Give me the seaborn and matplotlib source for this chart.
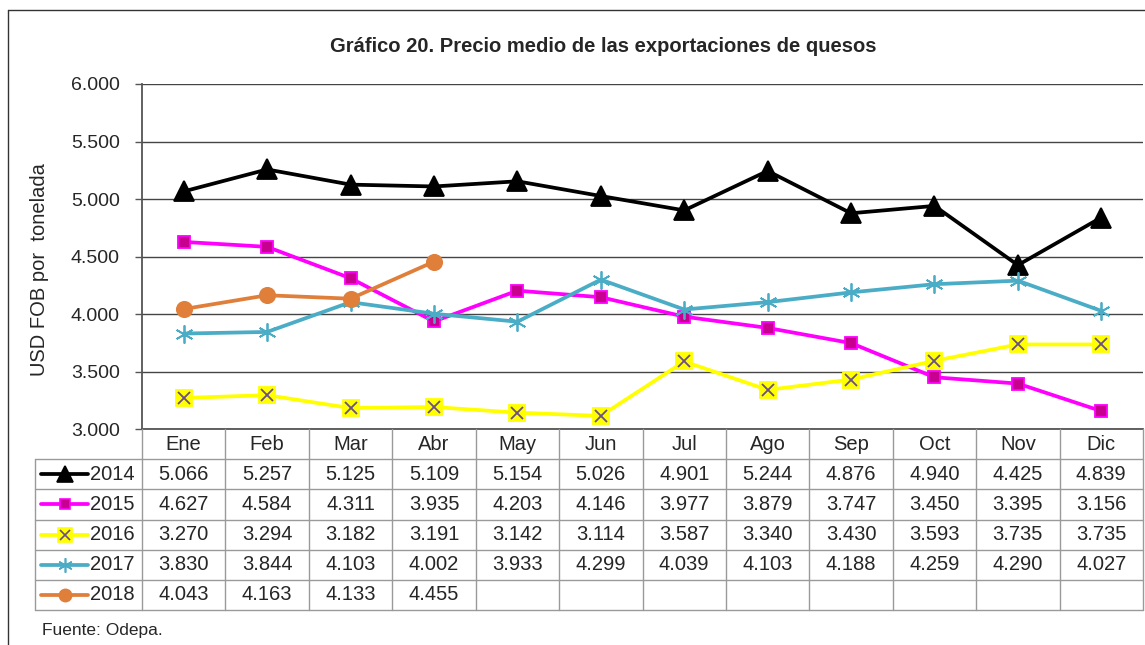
import numpy as np
import pandas as pd
import matplotlib
matplotlib.use("Agg")
import matplotlib.pyplot as plt
import seaborn as sns
from matplotlib.lines import Line2D

meses = ["Ene", "Feb", "Mar", "Abr", "May", "Jun", "Jul", "Ago", "Sep", "Oct", "Nov", "Dic"]
anios = ["2014", "2015", "2016", "2017", "2018"]
v2014 = [5066, 5257, 5125, 5109, 5154, 5026, 4901, 5244, 4876, 4940, 4425, 4839]
v2015 = [4627, 4584, 4311, 3935, 4203, 4146, 3977, 3879, 3747, 3450, 3395, 3156]
v2016 = [3270, 3294, 3182, 3191, 3142, 3114, 3587, 3340, 3430, 3593, 3735, 3735]
v2017 = [3830, 3844, 4103, 4002, 3933, 4299, 4039, 4103, 4188, 4259, 4290, 4027]
v2018 = [4043, 4163, 4133, 4455]
valores = [v2014, v2015, v2016, v2017, v2018]

# estilo de cada serie (como en Excel)
estilos = {
    "2014": dict(color="black", marker="^", markersize=14, markerfacecolor="black", markeredgecolor="black"),
    "2015": dict(color="#FF00FF", marker="s", markersize=9, markerfacecolor="#C8008F", markeredgecolor="#FF00FF"),
    "2016": dict(color="#FFFF00", marker="s", markersize=12, markerfacecolor="#FFFF00", markeredgecolor="#FFFF00"),
    "2017": dict(color="#4BACC6", marker=(6, 2, 0), markersize=13, markerfacecolor="#4BACC6", markeredgecolor="#4BACC6"),
    "2018": dict(color="#DF7F3A", marker="o", markersize=11, markerfacecolor="#DF7F3A", markeredgecolor="#DF7F3A"),
}

def fmt(v):
    return f"{v:,.0f}".replace(",", ".")

sns.set_theme(style="white")
plt.rcParams['font.family'] = ['Liberation Sans', 'DejaVu Sans']

W, H = 1145, 645
fig = plt.figure(figsize=(W / 100, H / 100), dpi=100)

# grafico principal
ax = fig.add_axes([142 / W, 1 - 429 / H, 1001 / W, 345 / H])
for anio, vals in zip(anios, valores):
    df = pd.DataFrame({"mes": np.arange(len(vals)), "valor": vals})
    e = estilos[anio]
    sns.lineplot(data=df, x="mes", y="valor", ax=ax, color=e["color"], linewidth=2.7,
                 marker=e["marker"], markersize=e["markersize"], markerfacecolor=e["markerfacecolor"],
                 markeredgecolor=e["markeredgecolor"], markeredgewidth=1.3, zorder=3)
    if anio == "2016":
        ax.plot(df["mes"], df["valor"], linestyle="none", marker="x", markersize=9,
                markeredgecolor="#6A4E8A", markeredgewidth=1.3, zorder=4)

ax.set_xlim(-0.5, 11.5)
ax.set_ylim(3000, 6000)
ax.set_yticks(np.arange(3000, 6001, 500))
ax.set_yticklabels([fmt(t) for t in np.arange(3000, 6001, 500)], fontsize=14)
ax.set_xticks([])
ax.set_xlabel("")
ax.set_ylabel("")
ax.yaxis.grid(True, color="#444444", linewidth=1)
ax.set_axisbelow(True)
for s in ["top", "right"]:
    ax.spines[s].set_visible(False)
for s in ["left", "bottom"]:
    ax.spines[s].set_color("#555555")
    ax.spines[s].set_linewidth(1.3)
ax.tick_params(axis="y", left=True, length=5, width=1, color="#555555", pad=11)

# tabla de datos
px = 1001 / 12
x_izq = -0.5 - (142 - 35) / px
tab = fig.add_axes([35 / W, 1 - 610 / H, (1143 - 35) / W, 181 / H])
tab.set_xlim(x_izq, 11.5)
tab.set_ylim(6, 0)
tab.axis("off")
gris = "#9a9a9a"
fs_tab = 14.5

for i, m in enumerate(meses):
    tab.text(i, 0.5, m, ha="center", va="center", fontsize=fs_tab)
for k in range(13):
    tab.plot([k - 0.5, k - 0.5], [0, 6], color=gris, lw=1, clip_on=False)
tab.plot([x_izq, x_izq], [1, 6], color=gris, lw=1, clip_on=False)
for r in range(1, 7):
    tab.plot([x_izq, 11.5], [r, r], color=gris, lw=1, clip_on=False)

for r, (anio, vals) in enumerate(zip(anios, valores), start=1):
    y = r + 0.5
    e = estilos[anio]
    x0 = x_izq + 6 / px
    x1 = x_izq + 53 / px
    tab.plot([x0, x1], [y, y], color=e["color"], lw=2.7, clip_on=False)
    tab.plot([(x0 + x1) / 2], [y], linestyle="none", marker=e["marker"], markersize=e["markersize"] * 0.8,
             markerfacecolor=e["markerfacecolor"], markeredgecolor=e["markeredgecolor"],
             markeredgewidth=1.2, clip_on=False)
    if anio == "2016":
        tab.plot([(x0 + x1) / 2], [y], linestyle="none", marker="x", markersize=7,
                 markeredgecolor="#6A4E8A", markeredgewidth=1.2, clip_on=False)
    tab.text(x_izq + 55 / px, y, anio, ha="left", va="center", fontsize=fs_tab)
    for i, v in enumerate(vals):
        tab.text(i, y, fmt(v), ha="center", va="center", fontsize=fs_tab)

# textos
fig.text(603 / W, 1 - 47 / H, "Gráfico 20. Precio medio de las exportaciones de quesos",
         ha="center", va="center", fontsize=14.5, fontweight="bold")
fig.text(40 / W, 1 - 270 / H, "USD FOB por  tonelada", rotation=90, ha="center", va="center", fontsize=14.5)
fig.text(42 / W, 1 - 631 / H, "Fuente: Odepa.", ha="left", va="center", fontsize=12.5)

# marco exterior
fig.add_artist(Line2D([8 / W, 8 / W], [0, 1 - 10 / H], color="#333333", lw=1))
fig.add_artist(Line2D([8 / W, 1], [1 - 10 / H, 1 - 10 / H], color="#333333", lw=1))

fig.savefig("out.png", dpi=100)
